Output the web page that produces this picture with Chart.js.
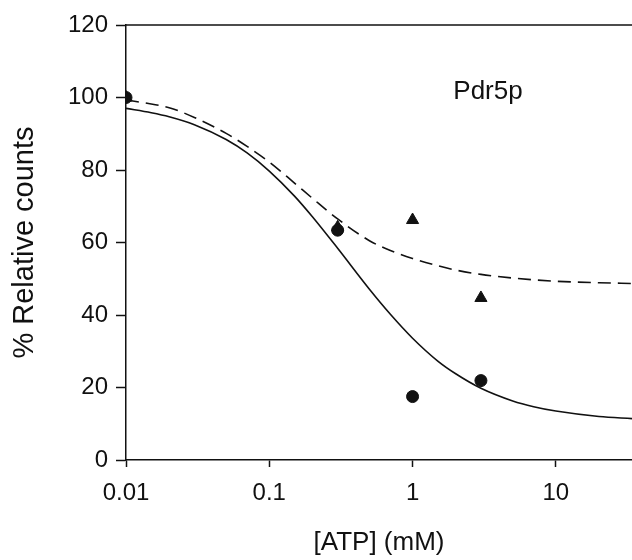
<!DOCTYPE html>
<html>
<head>
<meta charset="utf-8">
<script src="https://cdn.jsdelivr.net/npm/chart.js@4"></script>
<style>
  body { margin: 0; background: #fff; }
  #wrap { width: 632px; height: 560px; }
</style>
</head>
<body>
<div id="wrap"><canvas id="atpChart"></canvas></div>
<script>
// data
var xTicks = [0.01, 0.1, 1, 10];
var yTicks = [0, 20, 40, 60, 80, 100, 120];

// measured points
var circleX = [0.01, 0.3, 1, 3];
var circleY = [100, 63.4, 17.5, 21.9];
var triangleX = [0.01, 0.3, 1, 3];
var triangleY = [100, 64.2, 66.2, 44.7];

// fitted curves
var curveX = [0.01, 0.015, 0.02, 0.03, 0.05, 0.07, 0.1, 0.15, 0.2, 0.3, 0.5, 0.7, 1, 1.5, 2, 3, 5, 7, 10, 20, 34];
var solidY = [97, 95.8, 94.7, 92.5, 88.4, 84.7, 79.7, 72.8, 67.1, 58.4, 47.1, 40.2, 33.6, 27.3, 23.8, 19.8, 16.3, 14.7, 13.5, 12, 11.4];
var dashedY = [99.3, 98.2, 97.2, 94.5, 90.1, 86.5, 82.2, 76.4, 72.2, 66.5, 60.5, 57.8, 55.6, 53.6, 52.4, 51.2, 50.2, 49.7, 49.3, 48.9, 48.7];

function pairs(xs, ys) {
  return xs.map(function(x, i) { return { x: x, y: ys[i] }; });
}

var FONT = "'Liberation Sans', Arial, sans-serif";

// top frame line + panel label
var extras = {
  id: "extras",
  afterDraw: function(chart) {
    var ctx = chart.ctx, a = chart.chartArea;
    ctx.save();
    ctx.strokeStyle = "#111";
    ctx.lineWidth = 1.5;
    ctx.beginPath();
    ctx.moveTo(a.left, a.top);
    ctx.lineTo(a.right, a.top);
    ctx.stroke();
    ctx.fillStyle = "#111";
    ctx.font = "26px " + FONT;
    ctx.textAlign = "center";
    ctx.textBaseline = "middle";
    ctx.fillText("Pdr5p", 488, 92);
    ctx.restore();
  }
};

new Chart("atpChart", {
  type: "scatter",
  data: {
    datasets: [
      {
        data: pairs(circleX, circleY),
        pointStyle: "circle",
        pointRadius: 6,
        backgroundColor: "#111",
        borderColor: "#111",
        order: 0
      },
      {
        data: pairs(triangleX, triangleY),
        pointStyle: "triangle",
        pointRadius: 7,
        backgroundColor: "#111",
        borderColor: "#111",
        order: 0
      },
      {
        data: pairs(curveX, solidY),
        showLine: true,
        pointRadius: 0,
        borderColor: "#111",
        borderWidth: 1.6,
        cubicInterpolationMode: "monotone",
        order: 1
      },
      {
        data: pairs(curveX, dashedY),
        showLine: true,
        pointRadius: 0,
        borderColor: "#111",
        borderWidth: 1.6,
        borderDash: [13, 7],
        cubicInterpolationMode: "monotone",
        order: 1
      }
    ]
  },
  options: {
    responsive: true,
    maintainAspectRatio: false,
    animation: false,
    layout: { autoPadding: false, padding: { top: 25, right: 0, left: 0, bottom: 0 } },
    plugins: {
      legend: { display: false },
      tooltip: { enabled: false }
    },
    scales: {
      x: {
        type: "logarithmic",
        min: 0.01,
        max: 34,
        afterBuildTicks: function(scale) {
          scale.ticks = xTicks.map(function(v) { return { value: v }; });
        },
        afterFit: function(scale) {
          scale.height = 100;
          scale.paddingLeft = 0;
          scale.paddingRight = 0;
        },
        ticks: {
          color: "#111",
          font: { family: FONT, size: 24 },
          padding: 12,
          maxRotation: 0,
          callback: function(v) { return String(v); }
        },
        grid: {
          drawOnChartArea: false,
          color: "#111",
          tickLength: 7,
          tickWidth: 1.5
        },
        border: { color: "#111", width: 1.5 },
        title: {
          display: true,
          text: "[ATP] (mM)",
          color: "#111",
          font: { family: FONT, size: 26 },
          padding: { top: 0, bottom: 2 }
        }
      },
      y: {
        min: 0,
        max: 120,
        afterBuildTicks: function(scale) {
          scale.ticks = yTicks.map(function(v) { return { value: v }; });
        },
        afterFit: function(scale) {
          scale.width = 126;
          scale.paddingTop = 0;
          scale.paddingBottom = 0;
        },
        ticks: {
          color: "#111",
          font: { family: FONT, size: 24 },
          padding: 8
        },
        grid: {
          drawOnChartArea: false,
          color: "#111",
          tickLength: 10,
          tickWidth: 1.5
        },
        border: { color: "#111", width: 1.5 },
        title: {
          display: true,
          text: "% Relative counts",
          color: "#111",
          font: { family: FONT, size: 29 },
          padding: { top: 8, bottom: 0 }
        }
      }
    }
  },
  plugins: [extras]
});
</script>
</body>
</html>
